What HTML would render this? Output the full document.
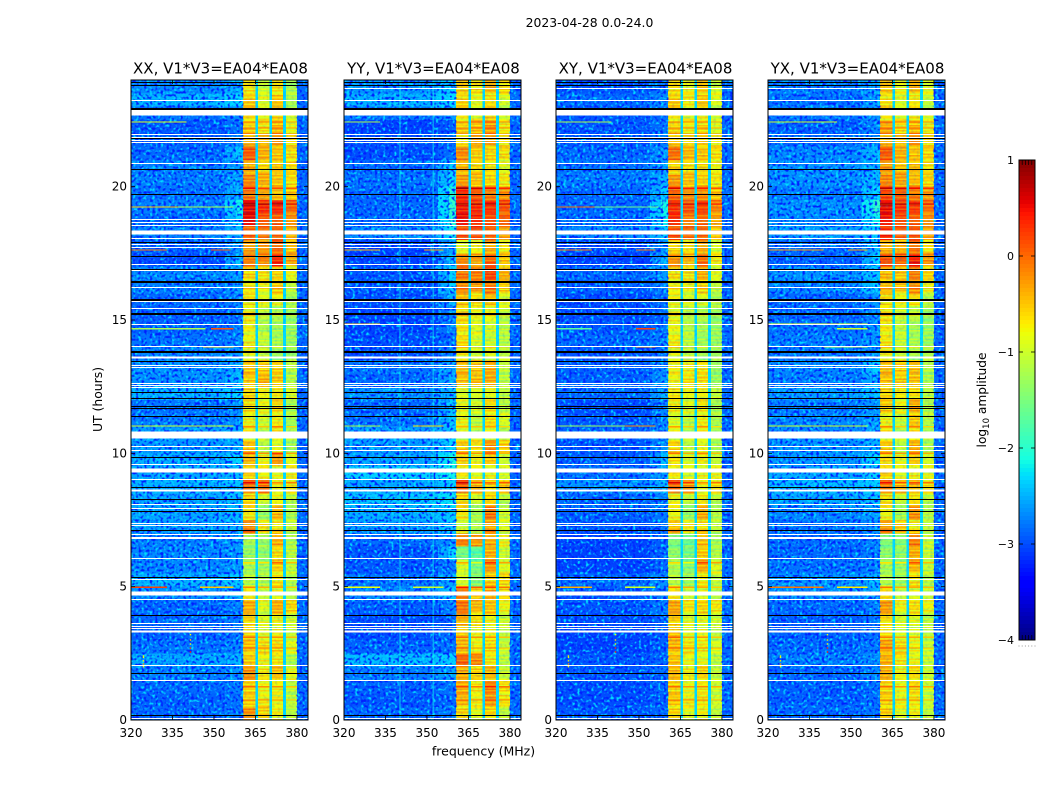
<!DOCTYPE html>
<html lang="en">
<head>
<meta charset="utf-8">
<title>2023-04-28 0.0-24.0</title>
<style>
html,body{margin:0;padding:0;background:#fff}
svg{display:block}
text{font-family:"DejaVu Sans","Liberation Sans",sans-serif;fill:#000}
</style>
</head>
<body>
<svg id="chart" xmlns="http://www.w3.org/2000/svg" width="1050" height="800" viewBox="0 0 1050 800">
  <defs>
    <filter id="speckle-light" x="0" y="0" width="100%" height="100%" color-interpolation-filters="sRGB">
      <feTurbulence type="fractalNoise" baseFrequency="0.36" numOctaves="1" seed="4"/>
      <feColorMatrix type="matrix" values="0 0 0 0 0  0 0 0 0 0.86  0 0 0 0 1  4.5 0 0 0 -2.3"/>
    </filter>
    <filter id="speckle-dark" x="0" y="0" width="100%" height="100%" color-interpolation-filters="sRGB">
      <feTurbulence type="fractalNoise" baseFrequency="0.36" numOctaves="1" seed="11"/>
      <feColorMatrix type="matrix" values="0 0 0 0 0  0 0 0 0 0.12  0 0 0 0 1  4.5 0 0 0 -2.2"/>
    </filter>
  </defs>
  <text x="589.5" y="27" text-anchor="middle" font-size="12.4">2023-04-28 0.0-24.0</text>
  <g id="panels"></g>
  <text x="483.5" y="755.5" text-anchor="middle" font-size="12.5">frequency (MHz)</text>
  <text transform="translate(102,399.5) rotate(-90)" text-anchor="middle" font-size="12.4">UT (hours)</text>
  <g id="colorbar"></g>
  <text transform="translate(986,400) rotate(-90)" text-anchor="middle" font-size="12.2">log<tspan font-size="8.5" dy="3">10</tspan><tspan dy="-3"> amplitude</tspan></text>
</svg>
<script>
// Row-band matrices, top row first (UT 24 down to 0 in half-hour rows).
// Each row: [background, shoulder, block1, block2, block3, block4] in log10 amplitude.
const rowHours = 0.5;
const xxRows = [
[-2.7,-2.5,-.6,-.9,-.6,-1.1],[-2.5,-2.3,-.45,-.8,-.45,-1.1],[-2.8,-2.7,-.5,-.7,-.5,-.9],[-2.95,-2.8,-.5,-.6,-.4,-.8],
[-2.9,-2.7,-.3,-.4,-.15,-.55],[-2.85,-2.4,.15,-.3,-.4,-.55],[-2.75,-2.6,-.3,-.5,-.45,-.5],[-2.75,-2.55,-.1,-.3,-.4,-.55],
[-2.8,-2.45,0,-.25,-.35,-.45],[-2.75,-2.15,.6,.4,.4,.1],[-2.85,-2.3,.55,.2,.1,-.1],[-2.75,-2.5,.1,0,.1,-.3],
[-2.9,-2.6,-.2,-.2,.1,-.4],[-3,-2.4,-.05,-.05,.4,-.25],[-2.7,-2.6,-.5,-.6,-.5,-.75],[-2.75,-2.6,-.65,-.7,-.45,-1],
[-2.85,-2.7,-.6,-.8,-.7,-1.1],[-2.9,-2.75,-.7,-1,-1.1,-1.2],[-2.9,-2.75,-.65,-1.1,-1.1,-1.2],[-2.8,-2.65,-.7,-.95,-1.1,-1.2],
[-2.7,-2.6,-.75,-.95,-1.2,-1.25],[-2.65,-2.5,-.4,-.45,-.5,-1],[-2.65,-2.4,-.45,-.3,-.45,-1.05],[-2.5,-2.3,-.5,-.7,-.6,-.85],
[-2.8,-2.6,-.55,-.7,-.5,-1.1],[-2.75,-2.6,-.7,-.9,-.65,-1.15],[-2.6,-2.5,-.7,-1,-.6,-1.1],[-2.6,-2.5,-.4,-1,-.8,-1.15],
[-2.5,-2.3,-.35,-.7,-.2,-.8],[-2.55,-2.45,-.45,-.7,-.75,-.7],[-2.5,-2.4,.05,0,-.7,-.6],[-2.55,-2.4,-.5,-.9,-.7,-1],
[-2.55,-2.45,-.6,-1.2,-.35,-1.1],[-2.6,-2.5,-.1,-.6,-.6,-1],[-2.75,-2.6,-1.1,-1.2,-.25,-1.1],[-2.7,-2.6,-1.2,-1.25,-.55,-1],
[-2.7,-2.6,-1.15,-1.15,-.5,-.95],[-2.5,-2.35,-1,-1.05,-.6,-1.1],[-2.65,-2.45,-.65,-.9,-.8,-1.05],[-2.85,-2.7,-.3,-.8,-.3,-.5],
[-2.85,-2.75,-.5,-.8,-.7,-.9],[-2.9,-2.8,-.55,-.8,-.7,-.95],[-2.8,-2.7,-.4,-.55,-.5,-.8],[-2.55,-2.5,-.45,-.7,-.6,-1.1],
[-2.75,-2.65,-.15,-.6,-.4,-.75],[-2.85,-2.75,-.5,-.7,-.7,-1],[-2.9,-2.8,-.5,-.65,-.7,-1],[-2.85,-2.75,-.15,-.5,-.65,-1.05]
];
const yyRows = [
[-2.65,-2.3,-.45,-.55,-.35,-.5],[-2.5,-2.3,-.5,-.75,-.6,-.85],[-2.8,-2.6,-.6,-.75,-.5,-.9],[-3.05,-2.9,-.5,-.4,-.25,-.65],
[-3,-2.85,-.55,-.3,-.2,-.6],[-3,-2.8,-.1,-.45,-.5,-.55],[-2.85,-2.4,-.35,-.5,-.6,-.8],[-2.8,-2.3,-.2,-.4,-.5,-.6],
[-2.85,-2,.4,.15,0,-.15],[-2.85,-1.95,.45,.4,.35,.2],[-2.85,-2,.5,.45,.2,.15],[-2.7,-2.2,.2,.2,.1,-.2],
[-3.05,-2.55,-.75,-.7,-.25,-.65],[-3.05,-2.4,-.1,-.2,.1,-.4],[-2.95,-2.35,0,-.05,.25,-.3],[-2.95,-2.35,-.15,-.2,-.05,-.5],
[-3,-2.5,-.4,-.6,-.4,-.8],[-3.05,-2.7,-.55,-.75,-.75,-.95],[-3.05,-2.7,-.55,-.8,-.85,-1],[-3,-2.8,-.55,-.85,-.9,-1.05],
[-3,-2.7,-.6,-.9,-.8,-1],[-2.8,-2.55,-.35,-.4,-.3,-.95],[-2.85,-2.5,-.4,-.35,-.3,-1],[-2.65,-2.45,-.8,-.85,-.75,-1],
[-2.85,-2.4,-.75,-.85,-.55,-1],[-2.8,-2.4,-.7,-1,-.55,-.85],[-2.6,-2.4,-.9,-1,-.8,-1.1],[-2.6,-2.3,-.45,-.55,-.15,-.45],
[-2.55,-2.1,-.45,-.7,-.45,-.9],[-2.35,-2.15,-.6,-.8,-.7,-.9],[-2.55,-2.35,.15,-.35,-.5,-.4],[-2.4,-2.2,-.5,-.9,-.5,-1],
[-2.5,-2.35,-.6,-1.1,0,-.9],[-2.6,-2.4,-.9,-1.1,-.25,-.85],[-2.85,-2.6,-.05,-.2,-.25,-.7],[-2.95,-2.3,-1.4,-1.6,-.3,-.9],
[-2.95,-2.75,-.85,-1.4,-.2,-.8],[-2.8,-2.55,-.85,-1.3,-.45,-.55],[-2.7,-2.4,-.05,-.4,-.3,-.55],[-2.9,-2.7,0,-.35,-.4,-.7],
[-3,-2.85,-.3,-.55,-.7,-.9],[-3,-2.8,-.5,-.7,-.7,-1],[-2.9,-2.8,-.35,-.7,-.55,-.95],[-2.45,-2.35,.1,-.1,-.6,-1],
[-2.75,-2.55,-.3,-.5,-.35,-.9],[-2.9,-2.8,-.3,-.6,-.1,-.55],[-2.95,-2.85,-.35,-.65,-.2,-.6],[-2.85,-2.75,-.5,-.8,-.5,-1]
];
const xyRows = [
[-2.95,-2.75,-.55,-.7,-.45,-.85],[-2.85,-2.7,-.45,-.6,-.45,-.8],[-2.95,-2.8,-.6,-.75,-.7,-.9],[-2.95,-2.8,-.55,-.65,-.55,-.85],
[-2.95,-2.75,-.4,-.55,-.4,-.65],[-2.85,-2.6,.05,-.35,-.4,-.55],[-2.8,-2.6,-.5,-.55,-.55,-.7],[-2.75,-2.5,-.2,-.4,-.45,-.6],
[-2.85,-2.35,.1,-.15,-.1,-.4],[-2.85,-2.1,.35,.2,.25,-.05],[-2.85,-2.2,.35,0,.05,-.2],[-2.7,-2.4,.2,.05,.1,-.4],
[-3,-2.65,-.5,-.6,-.25,-.85],[-3.05,-2.5,-.15,-.3,.05,-.6],[-2.85,-2.6,-.55,-.6,-.3,-.8],[-2.9,-2.7,-.7,-.7,-.5,-1],
[-3,-2.8,-.7,-.85,-.8,-1.05],[-3,-2.85,-.8,-1.05,-1.1,-1.2],[-2.95,-2.8,-.7,-1.05,-1.1,-1.2],[-2.85,-2.7,-.65,-1,-1.15,-1.2],
[-2.95,-2.8,-.75,-1,-1.15,-1.2],[-2.9,-2.7,-.65,-.65,-.6,-1.2],[-2.9,-2.6,-.7,-.55,-.55,-1.2],[-2.85,-2.5,-.6,-.75,-.65,-.95],
[-3,-2.7,-.65,-.8,-.6,-1.1],[-2.95,-2.7,-.85,-1,-.65,-1.1],[-2.9,-2.65,-.8,-1.05,-.7,-1.15],[-2.95,-2.65,-.5,-1,-.75,-1.1],
[-2.9,-2.45,-.55,-.85,-.65,-.95],[-2.8,-2.6,-.6,-.85,-.7,-.75],[-2.65,-2.5,.1,-.2,-.7,-.55],[-2.85,-2.7,-.7,-1,-.6,-1],
[-2.9,-2.75,-.7,-1.2,-.3,-1.05],[-2.95,-2.8,-.4,-.65,-.55,-1],[-3.05,-2.85,-1.35,-1.5,-.35,-1.15],[-3.05,-2.85,-1.25,-1.4,-.45,-1.05],
[-3.05,-2.85,-1.1,-1.3,-.3,-.8],[-2.85,-2.65,-1,-1.15,-.65,-1],[-2.95,-2.7,-.6,-.85,-.85,-1.05],[-2.95,-2.75,-.25,-.6,-.5,-.6],
[-3,-2.85,-.45,-.8,-.8,-.9],[-3.05,-2.9,-.45,-.8,-.75,-1],[-3.05,-2.9,-.35,-.6,-.65,-.85],[-2.95,-2.85,-.4,-.75,-.75,-1],
[-2.95,-2.8,-.35,-.65,-.5,-.95],[-3,-2.85,-.5,-.75,-.65,-.9],[-3,-2.9,-.45,-.65,-.6,-.9],[-2.95,-2.85,-.5,-.8,-.65,-1]
];
const yxRows = [
[-2.75,-2.55,-.4,-.7,-.35,-.75],[-2.8,-2.55,-.6,-.8,-.65,-.95],[-2.8,-2.6,-.6,-.75,-.65,-.85],[-2.9,-2.7,-.3,-.55,-.4,-.7],
[-2.85,-2.7,-.3,-.45,-.1,-.55],[-2.7,-2.45,.15,-.3,-.4,-.5],[-2.65,-2.5,-.2,-.4,-.4,-.55],[-2.65,-2.45,-.1,-.25,-.35,-.5],
[-2.75,-2.3,.25,.1,0,-.2],[-2.65,-1.95,.55,.35,.3,.05],[-2.7,-2.15,.45,.25,.1,-.1],[-2.6,-2.35,.4,.1,.2,-.2],
[-2.85,-2.45,-.3,-.35,.05,-.6],[-2.9,-2.3,.2,.15,.45,-.15],[-2.65,-2.4,-.35,-.45,-.05,-.5],[-2.7,-2.35,-.4,-.4,-.15,-.7],
[-2.85,-2.6,-.55,-.75,-.55,-1],[-2.85,-2.65,-.6,-.9,-1,-1.2],[-2.8,-2.65,-.6,-1,-1.1,-1.2],[-2.75,-2.6,-.6,-.95,-1.1,-1.2],
[-2.75,-2.6,-.65,-.9,-1.1,-1.1],[-2.7,-2.35,-.35,-.45,-.4,-1.05],[-2.75,-2.45,-.4,-.45,-.4,-1.1],[-2.6,-2.4,-.5,-.65,-.55,-1],
[-2.75,-2.6,-.45,-.7,-.3,-1.05],[-2.7,-2.55,-.7,-.95,-.45,-1.05],[-2.7,-2.5,-.65,-1.05,-.6,-1.1],[-2.65,-2.5,-.45,-1,-.3,-1.1],
[-2.6,-2.25,-.5,-.75,-.45,-.85],[-2.55,-2.35,-.45,-.8,-.65,-.8],[-2.45,-2.35,0,-.35,-.35,-.55],[-2.55,-2.4,-.55,-.95,-.55,-1],
[-2.7,-2.55,-.7,-1.1,-.15,-1.05],[-2.8,-2.65,-.2,-.45,-.65,-1],[-2.85,-2.7,-1.35,-1.35,0,-.95],[-2.85,-2.7,-1.25,-1.25,-.3,-.95],
[-2.8,-2.7,-1.15,-1.2,-.35,-.95],[-2.65,-2.5,-1.05,-1.15,-.6,-1.05],[-2.7,-2.5,-.55,-.9,-.85,-.95],[-2.85,-2.7,-.2,-.7,-.55,-.7],
[-2.9,-2.75,-.55,-.85,-.8,-1],[-2.9,-2.8,-.6,-.85,-.85,-1],[-2.85,-2.75,-.25,-.55,-.7,-.95],[-2.75,-2.65,-.3,-.6,-.7,-.95],
[-2.85,-2.7,-.3,-.7,-.55,-.9],[-2.9,-2.8,-.5,-.75,-.55,-.9],[-2.9,-2.8,-.5,-.7,-.6,-.95],[-2.85,-2.75,-.45,-.8,-.65,-1]
];
// Flagged rows (UT hours)
const whiteLines = [23.26,21.97,21.87,21.74,21.68,20.89,18.78,18.68,18.58,18.07,17.84,17.74,17.1,16.88,16.24,15.7,15.46,14.84,14.03,13.3,13.23,12.65,12.58,12.49,10.27,10.13,9.6,9.04,8.1,7.96,7.38,7.32,6.98,6.08,5.29,4.55,3.63,3.52,3.44,2.05,1.51,0.07];
const whiteBandStart = [22.67,18.2,13.56,10.55,9.28,8.57,6.78,4.66,3.29];
const whiteBandEnd = [22.87,18.35,13.64,10.82,9.43,8.65,6.86,4.82,3.36];
const blackLines = [23.93,23.8,22.96,21.83,20.67,19.73,17.93,17.4,16.93,16.47,15.78,15.28,13.83,13.45,12.3,12.09,11.79,11.7,11.39,9.85,8.73,8.28,7.82,7.13,5.38,3.94,1.75,0.18];
const blackThick = [22.96,16.47,15.78,15.28,13.83];
const extraWhiteLines = {xx:[],yy:[23.71],xy:[23.71],yx:[23.71]};
// Bright streak rows inside the signal blocks (UT hours)
const streakUT = [22.43,22.2,21.98,19.94,19.35,16.2,15.2,14.0,11.0,10.0,8.9,7.1,5.9,4.98,3.1,2.7,1.25,0.75];
// Sub-row banding offsets inside the signal blocks (log10 amplitude)
const subRowOffset = [.1,-.2,.05,-.25,.02,-.12,-.05,-.3];
const rightMarginLevel = -2.85;
// Spurs: [UT, start MHz, end MHz, level]
const xxSpurs = [[22.43,320,340,-.9],[19.24,320,337,-.5],[19.24,337,357,-1.2],[17.63,320,333,-.1],[17.63,349,356,.1],[14.67,320,347,-1.2],[14.67,349,357,.1],[14,346,357,-.5],[11.02,320,357,-1],[4.98,320,333,.2],[4.98,345,357,-.5]];
const yySpurs = [[22.43,320,333,-1.2],[17.63,320,333,-.4],[17.63,349,356,-.3],[14.84,320,333,-.5],[11.02,320,333,-1.2],[11.02,345,356,-.6],[4.98,320,333,-.8],[4.98,345,356,-1]];
const xySpurs = [[22.43,320,340,-1.2],[19.24,320,334,0],[19.24,334,357,-1.6],[17.63,320,333,-.1],[17.63,349,356,-.1],[14.67,320,333,-1.7],[14.67,349,356,.2],[14,349,356,-.4],[11.02,320,356,-1.3],[11.02,345,356,-.2],[4.98,320,333,-.4],[4.98,345,356,-1]];
const yxSpurs = [[22.43,320,345,-1],[17.63,320,340,-.3],[17.63,349,356,-.3],[14.84,320,356,-.8],[14.67,345,356,-1],[14,340,356,-1.2],[11.02,320,356,-1],[4.98,320,340,-.1],[4.98,345,356,-.7]];
// RFI dots: [MHz, UT, level]
const rfiDots = [[324.5,2.4,-.8],[324.5,2.35,-.8],[324.5,2.22,-.7],[324.5,2.1,-.2],[324.5,2,-.7],[341.5,3.2,-.8],[341.5,3,-.7],[341.5,2.85,-.8],[341.5,2.7,.3],[341.5,2.55,.4]];
const yyVerticalFreqs = [340,352];
// Frequency groups [start MHz, end MHz, source column]: 0 bg, 1 shoulder, 2-5 blocks, 6 shoulder ramp, 7 right margin, -1 gap
const groupStart = [320,354,358,360.5,365,366,370,371,375,376,380];
const groupEnd = [354,358,360.5,365,366,370,371,375,376,380,384];
const groupColumn = [0,6,1,2,-1,3,-1,4,-1,5,7];
const gapLevel = -2.3;
const freqTicks = [320,335,350,365,380];
const utTicks = [0,5,10,15,20];
const cbarTicks = [1,0,-1,-2,-3,-4];
const panelNames = ['xx','yy','xy','yx'];
const panelTitles = ['XX, V1*V3=EA04*EA08','YY, V1*V3=EA04*EA08','XY, V1*V3=EA04*EA08','YX, V1*V3=EA04*EA08'];
const panelLeft = [131,344,556,768];
const panelRows = {xx:xxRows,yy:yyRows,xy:xyRows,yx:yxRows};
const panelSpurs = {xx:xxSpurs,yy:yySpurs,xy:xySpurs,yx:yxSpurs};

const NS = 'http://www.w3.org/2000/svg';
const plotTop = 80, plotH = 640, plotW = 177;
function yOf(ut){return plotTop + plotH * (1 - ut / 24);}
function xOf(left,f){return left + (f - 320) * (plotW / 64);}
function lerp(x,pts){
  for(let i=1;i<pts.length;i++){
    if(x<=pts[i][0]){
      const a=pts[i-1],b=pts[i];
      return a[1]+(b[1]-a[1])*(x-a[0])/(b[0]-a[0]);
    }
  }
  return pts[pts.length-1][1];
}
function jet(v){
  const t=Math.max(0,Math.min(1,(v+4)/5));
  const r=lerp(t,[[0,0],[.35,0],[.66,1],[.89,1],[1,.5]]);
  const g=lerp(t,[[0,0],[.125,0],[.375,1],[.64,1],[.91,0],[1,0]]);
  const b=lerp(t,[[0,.5],[.11,1],[.34,1],[.65,0],[1,0]]);
  return 'rgb('+Math.round(r*255)+','+Math.round(g*255)+','+Math.round(b*255)+')';
}
function mk(tag,parent,attrs){
  const el=document.createElementNS(NS,tag);
  for(const k in attrs)el.setAttribute(k,attrs[k]);
  parent.appendChild(el);
  return el;
}
function levelFor(row,col){
  if(col===-1)return gapLevel;
  if(col===6)return row[0]*.35+row[1]*.65;
  if(col===7)return rightMarginLevel;
  return row[col];
}
const panelsRoot=document.getElementById('panels');
panelNames.forEach(function(name,p){
  const left=panelLeft[p];
  const g=mk('g',panelsRoot,{});
  
  
  const rows=panelRows[name];
  rows.forEach(function(row,r){
    const utTop=24-r*rowHours;
    groupStart.forEach(function(f0,c){
      const col=groupColumn[c];
      const v=levelFor(row,col);
      const x0=xOf(left,f0),x1=xOf(left,groupEnd[c]);
      const isBlock=col>=2&&col<=5;
      const subs=isBlock?subRowOffset:[0];
      subs.forEach(function(off,s){
        const hSub=rowHours/subs.length;
        const u0=utTop-s*hSub,u1=u0-hSub;
        // rotate the sub-row pattern per block and row so bands are not all aligned
        const shifted=isBlock?subRowOffset[(s+r*3+col)%subRowOffset.length]:0;
        const cell=mk('rect',g,{x:x0.toFixed(2),y:yOf(u0).toFixed(2),width:(x1-x0).toFixed(2),height:(yOf(u1)-yOf(u0)).toFixed(2),fill:jet(v+shifted),'shape-rendering':'crispEdges'});
        
        
      });
    });
  });
  // speckle texture
  const bgX=xOf(left,320), bgW=xOf(left,360.5)-bgX, rX=xOf(left,380), rW=xOf(left,384)-rX;
  [[bgX,bgW,1],[rX,rW,1],[xOf(left,360.5),xOf(left,380)-xOf(left,360.5),.1]].forEach(function(a){
    ['speckle-light','speckle-dark'].forEach(function(f){
      const s=mk('rect',g,{x:a[0].toFixed(2),y:plotTop,width:a[1].toFixed(2),height:plotH,fill:'#000',filter:'url(#'+f+')',opacity:a[2]});
      
      
    });
  });
  streakUT.forEach(function(u){
    const row=rows[Math.min(rows.length-1,Math.floor((24-u)/rowHours))];
    groupStart.forEach(function(f0,c){
      const col=groupColumn[c];
      if(col<2||col>5)return;
      const st=mk('rect',g,{x:xOf(left,f0).toFixed(2),y:(yOf(u)-.6).toFixed(2),width:(xOf(left,groupEnd[c])-xOf(left,f0)).toFixed(2),height:1.2,fill:jet(row[col]+.5),'shape-rendering':'crispEdges'});
      
      
    });
  });
  if(name==='yy'){
    yyVerticalFreqs.forEach(function(f){
      const v=mk('rect',g,{x:xOf(left,f).toFixed(2),y:plotTop,width:1.4,height:plotH,fill:jet(-2.2),opacity:.55});
      
      
    });
  }
  panelSpurs[name].forEach(function(s){
    const sp=mk('rect',g,{x:xOf(left,s[1]).toFixed(2),y:(yOf(s[0])-.6).toFixed(2),width:(xOf(left,s[2])-xOf(left,s[1])).toFixed(2),height:1.2,fill:jet(s[3]),'shape-rendering':'crispEdges'});
    
    
  });
  if(name!=='yy'){
    rfiDots.forEach(function(d){
      const dot=mk('rect',g,{x:(xOf(left,d[0])-.7).toFixed(2),y:(yOf(d[1])-.7).toFixed(2),width:1.4,height:1.4,fill:jet(d[2])});
      
      
    });
  }
  whiteBandStart.forEach(function(st,i){
    const w=mk('rect',g,{x:left,y:yOf(whiteBandEnd[i]).toFixed(2),width:plotW,height:(yOf(st)-yOf(whiteBandEnd[i])).toFixed(2),fill:'#fff','shape-rendering':'crispEdges'});
    
    
  });
  whiteLines.concat(extraWhiteLines[name]).forEach(function(u){
    const w=mk('rect',g,{x:left,y:Math.round(yOf(u)),width:plotW,height:1,fill:'#fff','shape-rendering':'crispEdges'});
    
    
  });
  blackLines.forEach(function(u){
    const h=blackThick.indexOf(u)>=0?2:1;
    const b=mk('rect',g,{x:left,y:Math.round(yOf(u)),width:plotW,height:h,fill:'#000','shape-rendering':'crispEdges'});
    
    
  });
  const frame=mk('rect',g,{x:left,y:plotTop,width:plotW,height:plotH,fill:'none',stroke:'#000','stroke-width':1});
  
  
  freqTicks.forEach(function(f){
    const x=xOf(left,f);
    const t1=mk('line',g,{x1:x,x2:x,y1:plotTop+plotH,y2:plotTop+plotH-4,stroke:'#000','stroke-width':.8});
    
    
    const t2=mk('line',g,{x1:x,x2:x,y1:plotTop,y2:plotTop+4,stroke:'#000','stroke-width':.8});
    
    
    const lab=mk('text',g,{x:x,y:plotTop+plotH+17,'text-anchor':'middle','font-size':12});
    
    
    lab.textContent=f;
  });
  utTicks.forEach(function(u){
    const y=yOf(u);
    const t1=mk('line',g,{x1:left,x2:left+4,y1:y,y2:y,stroke:'#000','stroke-width':.8});
    
    
    const t2=mk('line',g,{x1:left+plotW,x2:left+plotW-4,y1:y,y2:y,stroke:'#000','stroke-width':.8});
    
    
    const lab=mk('text',g,{x:left-4,y:y+4,'text-anchor':'end','font-size':12});
    
    
    lab.textContent=u;
  });
  const title=mk('text',g,{x:left+89.5,y:73.5,'text-anchor':'middle','font-size':15});
  
  
  title.textContent=panelTitles[p];
});
// Colorbar
const cb=document.getElementById('colorbar');
const cbX=1019,cbW=16,cbTop=160,cbH=480;
function cbY(v){return cbTop+cbH*(1-(v+4)/5);}
for(let i=0;i<120;i++){
  const v0=1-i*5/120,v1=1-(i+1)*5/120;
  const seg=mk('rect',cb,{x:cbX,y:cbY(v0).toFixed(2),width:cbW,height:(cbY(v1)-cbY(v0)+.3).toFixed(2),fill:jet((v0+v1)/2),'shape-rendering':'crispEdges'});
  
  
}
const cbFrame=mk('rect',cb,{x:cbX,y:cbTop,width:cbW,height:cbH,fill:'none',stroke:'#000','stroke-width':1});


cbarTicks.forEach(function(v){
  const y=cbY(v);
  const t1=mk('line',cb,{x1:cbX,x2:cbX+4,y1:y,y2:y,stroke:'#000','stroke-width':.8});
  
  
  const t2=mk('line',cb,{x1:cbX+cbW,x2:cbX+cbW-4,y1:y,y2:y,stroke:'#000','stroke-width':.8});
  
  
  const lab=mk('text',cb,{x:cbX-5,y:y+4,'text-anchor':'end','font-size':11});
  
  
  lab.textContent=String(v).replace('-','\u2212');
});
[0,1,2,3,4,5].forEach(function(i){
  const x=cbX+i*cbW/5;
  const a=mk('line',cb,{x1:x,x2:x,y1:cbTop,y2:cbTop+5,stroke:'#000','stroke-width':.7});
  
  
  const b=mk('line',cb,{x1:x,x2:x,y1:cbTop+cbH,y2:cbTop+cbH-5,stroke:'#000','stroke-width':.7});
  
  
  const dot=mk('rect',cb,{x:x-.5,y:645.5,width:1,height:1,fill:'#999'});
  
  
});
</script>
</body>
</html>
